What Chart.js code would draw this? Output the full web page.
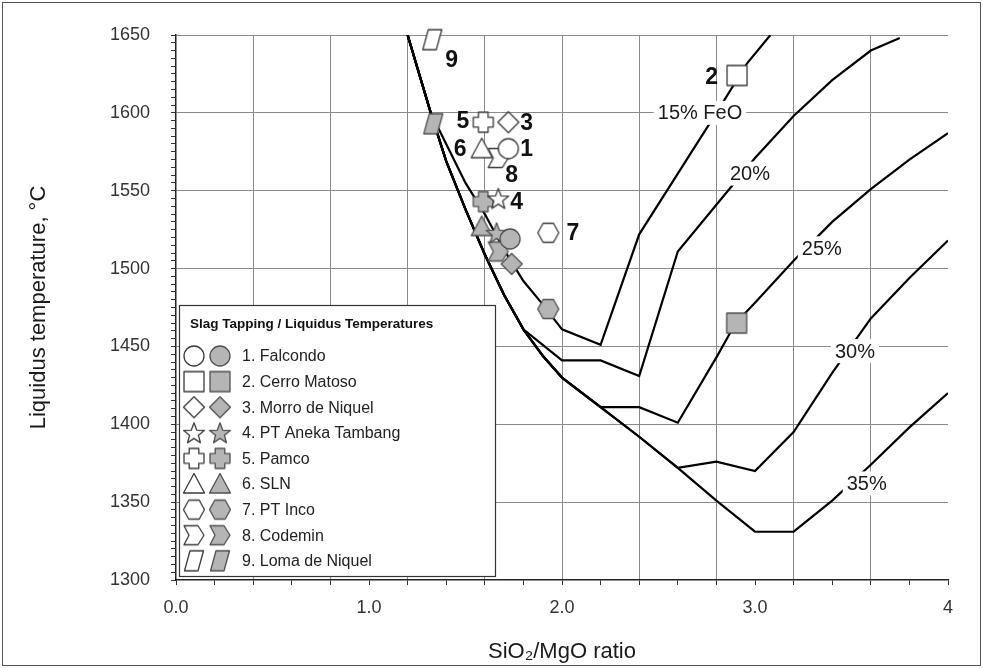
<!DOCTYPE html>
<html><head><meta charset="utf-8">
<script src="https://cdn.jsdelivr.net/npm/chart.js@4.4.1/dist/chart.umd.min.js"></script>
<style>html,body{margin:0;padding:0;background:#fff;}canvas{display:block;}</style>
</head><body>
<canvas id="c" width="983" height="668"></canvas>
<script>
// ---------- DATA ----------
// Liquidus curves (x = SiO2/MgO ratio, y = liquidus temperature °C)
const feo15X = [1.2, 1.32, 1.4, 1.5, 1.6, 1.7, 1.8, 1.9, 2.0, 2.2, 2.4, 2.6, 2.8, 2.96, 3.08];
const feo15Y = [1650, 1600, 1580, 1555, 1535, 1512, 1492, 1477, 1461, 1451, 1522, 1561, 1600, 1632, 1650];
const feo20X = [1.2, 1.32, 1.4, 1.5, 1.6, 1.7, 1.8, 2.0, 2.2, 2.4, 2.6, 2.8, 3.0, 3.2, 3.4, 3.6, 3.75];
const feo20Y = [1650, 1600, 1569, 1538, 1509, 1483, 1461, 1441, 1441, 1431, 1511, 1541, 1571, 1598, 1621, 1640, 1648];
const feo25X = [1.2, 1.32, 1.4, 1.5, 1.6, 1.7, 1.8, 1.9, 2.0, 2.2, 2.4, 2.6, 2.8, 2.9, 3.0, 3.2, 3.4, 3.6, 3.8, 4.0];
const feo25Y = [1650, 1600, 1569, 1538, 1509, 1483, 1461, 1444, 1430, 1411, 1411, 1401, 1443, 1465, 1478, 1505, 1530, 1551, 1570, 1587];
const feo30X = [1.2, 1.32, 1.4, 1.5, 1.6, 1.7, 1.8, 1.9, 2.0, 2.2, 2.4, 2.6, 2.8, 3.0, 3.2, 3.4, 3.6, 3.8, 4.0];
const feo30Y = [1650, 1600, 1569, 1538, 1509, 1483, 1461, 1444, 1430, 1411, 1392, 1372, 1376, 1370, 1395, 1433, 1468, 1494, 1518];
const feo35X = [1.2, 1.32, 1.4, 1.5, 1.6, 1.7, 1.8, 1.9, 2.0, 2.2, 2.4, 2.6, 2.8, 3.0, 3.2, 3.4, 3.6, 3.8, 4.0];
const feo35Y = [1650, 1600, 1569, 1538, 1509, 1483, 1461, 1444, 1430, 1411, 1392, 1372, 1351, 1331, 1331, 1351, 1374, 1398, 1420];

// Curve labels
const curveLabels = ['15% FeO', '20%', '25%', '30%', '35%'];
const curveLabelX = [2.715, 2.974, 3.346, 3.518, 3.579];
const curveLabelY = [1600, 1561, 1513, 1447, 1362];

// Operations
const companies = ['Falcondo', 'Cerro Matoso', 'Morro de Niquel', 'PT Aneka Tambang', 'Pamco', 'SLN', 'PT Inco', 'Codemin', 'Loma de Niquel'];
const shapes = ['circle', 'square', 'diamond', 'star', 'plus', 'triangle', 'hexagon', 'chevron', 'parallelogram'];
// Liquidus temperatures (open symbols)
const liqX = [1.722, 2.907, 1.722, 1.670, 1.592, 1.584, 1.929, 1.670, 1.328];
const liqY = [1577, 1624, 1594, 1545, 1594, 1577, 1523, 1571, 1647];
// Slag tapping temperatures (filled symbols)
const tapX = [1.731, 2.905, 1.739, 1.661, 1.592, 1.584, 1.929, 1.670, 1.333];
const tapY = [1519, 1465, 1503, 1523, 1543, 1527, 1474, 1511, 1593];
// Number tags next to the liquidus points
const numTags = ['1', '2', '3', '4', '5', '6', '7', '8', '9'];
const numX = [1.817, 2.776, 1.817, 1.765, 1.487, 1.472, 2.057, 1.739, 1.428];
const numY = [1577, 1623, 1594, 1543, 1595, 1577, 1523, 1560, 1634];

const legendTitle = 'Slag Tapping / Liquidus Temperatures';
const xTitle = 'SiO\u2082/MgO ratio';
const yTitle = 'Liquidus temperature, \u00B0C';

// ---------- MARKERS ----------
function shapePath(g, kind) {
  const poly = pts => { g.moveTo(pts[0][0], pts[0][1]); for (let i = 1; i < pts.length; i++) g.lineTo(pts[i][0], pts[i][1]); g.closePath(); };
  g.beginPath();
  switch (kind) {
    case 'circle': g.arc(0, 0, 10, 0, Math.PI * 2); break;
    case 'square': g.rect(-10, -10, 20, 20); break;
    case 'diamond': poly([[0, -10.5], [10.5, 0], [0, 10.5], [-10.5, 0]]); break;
    case 'star': {
      const p = [];
      for (let i = 0; i < 10; i++) { const r = i % 2 ? 4.6 : 11; const a = -Math.PI / 2 + i * Math.PI / 5; p.push([r * Math.cos(a), r * Math.sin(a) + 1]); }
      poly(p); break;
    }
    case 'plus': { const a = 4.8, e = 10; poly([[-a, -e], [a, -e], [a, -a], [e, -a], [e, a], [a, a], [a, e], [-a, e], [-a, a], [-e, a], [-e, -a], [-a, -a]]); break; }
    case 'triangle': poly([[0, -10.5], [10.5, 9], [-10.5, 9]]); break;
    case 'hexagon': poly([[-10.5, 0], [-5.2, -9.5], [5.2, -9.5], [10.5, 0], [5.2, 9.5], [-5.2, 9.5]]); break;
    case 'chevron': poly([[-10, -9.5], [4, -9.5], [10, 0], [4, 9.5], [-10, 9.5], [-5, 0]]); break;
    case 'parallelogram': poly([[-4, -10], [9.5, -10], [4, 10], [-9.5, 10]]); break;
  }
}
function makeMarker(kind, filled) {
  const c = document.createElement('canvas');
  c.width = 28; c.height = 28;
  const g = c.getContext('2d');
  g.translate(14, 14);
  shapePath(g, kind);
  g.fillStyle = filled ? '#b5b5b5' : '#ffffff';
  g.fill();
  g.lineJoin = 'round';
  g.lineWidth = 1.3;
  g.strokeStyle = filled ? '#505050' : '#3a3a3a';
  g.stroke();
  return c;
}
const openMarks = shapes.map(s => makeMarker(s, false));
const fillMarks = shapes.map(s => makeMarker(s, true));

// ---------- DATASETS ----------
const FONT = '"Liberation Sans", Arial, sans-serif';
const curveSets = [[feo15X, feo15Y], [feo20X, feo20Y], [feo25X, feo25Y], [feo30X, feo30Y], [feo35X, feo35Y]];
const datasets = [];
curveSets.forEach((c, k) => {
  datasets.push({
    label: curveLabels[k],
    data: c[0].map((x, i) => ({ x, y: c[1][i] })),
    showLine: true, borderColor: '#000', borderWidth: 2.2, pointRadius: 0, tension: 0, order: 3
  });
});
companies.forEach((name, i) => {
  datasets.push({
    label: name + ' liquidus', data: [{ x: liqX[i], y: liqY[i] }],
    pointStyle: openMarks[i], pointRadius: 10, clip: false, order: i === 7 ? 2 : 1
  });
  datasets.push({
    label: name + ' tapping', data: [{ x: tapX[i], y: tapY[i] }],
    pointStyle: fillMarks[i], pointRadius: 10, clip: false, order: i === 7 ? 2 : 1
  });
});

// ---------- PLUGINS ----------
const annotPlugin = {
  id: 'annot',
  afterDatasetsDraw(chart) {
    const { ctx, scales: { x, y } } = chart;
    ctx.save();
    // curve labels on white background
    ctx.font = '20px ' + FONT;
    ctx.textAlign = 'center'; ctx.textBaseline = 'middle';
    curveLabels.forEach((t, i) => {
      const px = x.getPixelForValue(curveLabelX[i]), py = y.getPixelForValue(curveLabelY[i]);
      const w = ctx.measureText(t).width;
      ctx.fillStyle = '#fff';
      ctx.fillRect(px - w / 2 - 4, py - 12, w + 8, 24);
      ctx.fillStyle = '#1a1a1a';
      ctx.fillText(t, px, py + 1);
    });
    // number tags
    ctx.font = 'bold 23px ' + FONT;
    ctx.fillStyle = '#111';
    numTags.forEach((t, i) => {
      ctx.fillText(t, x.getPixelForValue(numX[i]), y.getPixelForValue(numY[i]) + 1);
    });
    // legend box
    const L = 179, T = 305, R = 495, B = 576;
    ctx.fillStyle = '#fff';
    ctx.fillRect(L, T, R - L, B - T);
    ctx.strokeStyle = '#333'; ctx.lineWidth = 1.2;
    ctx.strokeRect(L + 0.5, T + 0.5, R - L, B - T);
    ctx.textAlign = 'left';
    ctx.fillStyle = '#111';
    ctx.font = 'bold 13.5px ' + FONT;
    ctx.fillText(legendTitle, 190, 324);
    ctx.font = '16px ' + FONT;
    ctx.fillStyle = '#222';
    companies.forEach((name, i) => {
      const yy = 356 + i * 25.6;
      ctx.drawImage(openMarks[i], 194 - 14, yy - 14);
      ctx.drawImage(fillMarks[i], 220 - 14, yy - 14);
      ctx.fillText((i + 1) + '. ' + name, 242, yy + 1);
    });
    ctx.restore();
  },
  afterDraw(chart) {
    const ctx = chart.ctx;
    ctx.save();
    ctx.strokeStyle = '#555'; ctx.lineWidth = 1;
    ctx.strokeRect(2.5, 2.5, 978, 663);
    ctx.restore();
  }
};

const near = (v, step) => Math.abs(v / step - Math.round(v / step)) < 1e-6;

new Chart(document.getElementById('c'), {
  type: 'scatter',
  data: { datasets },
  options: {
    responsive: false,
    animation: false,
    events: [],
    layout: { padding: { top: 35, right: 35, left: 0, bottom: 0 } },
    plugins: { legend: { display: false }, tooltip: { enabled: false } },
    scales: {
      x: {
        type: 'linear', min: 0, max: 4,
        afterFit(s) { s.height = 88; },
        ticks: {
          stepSize: 0.2, autoSkip: false, maxRotation: 0, padding: 12, color: '#333',
          font: { family: FONT, size: 18 },
          callback(v) { if (!near(v, 1)) return ''; return Math.abs(v - 4) < 1e-6 ? '4' : Number(v).toFixed(1); }
        },
        grid: {
          color(c) { const v = c.tick ? c.tick.value : 0; return (near(v, 0.4) && v > 0.01 && v < 3.99) ? '#8a8a8a' : 'rgba(0,0,0,0)'; },
          lineWidth: 1, tickColor: '#333', tickLength: 5
        },
        border: { color: '#222', width: 1.5 },
        title: { display: true, text: xTitle, color: '#1a1a1a', font: { family: FONT, size: 22 }, padding: { top: 0, bottom: 3 } }
      },
      y: {
        type: 'linear', min: 1300, max: 1650,
        afterFit(s) { s.width = 176; },
        ticks: {
          stepSize: 5, autoSkip: false, padding: 21, color: '#333',
          font: { family: FONT, size: 18 },
          callback(v) { return near(v, 50) ? String(v) : ''; }
        },
        grid: {
          color(c) { const v = c.tick ? c.tick.value : 0; return (near(v, 50) && v > 1300) ? '#8a8a8a' : 'rgba(0,0,0,0)'; },
          lineWidth: 1, tickColor: '#333', tickLength: 5
        },
        border: { color: '#222', width: 1.5 },
        title: { display: true, text: yTitle, color: '#1a1a1a', font: { family: FONT, size: 22 }, padding: { top: 26, bottom: 0 } }
      }
    }
  },
  plugins: [annotPlugin]
});
</script>
</body></html>
